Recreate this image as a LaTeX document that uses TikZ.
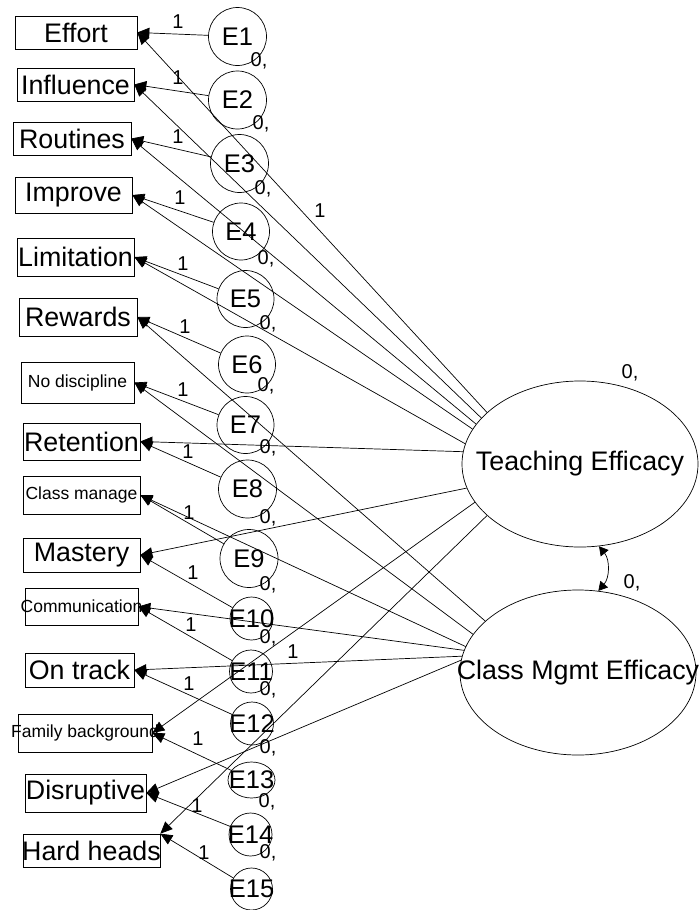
\documentclass[tikz,border=0pt]{standalone}
\usepackage{fontspec}
\setmainfont{Liberation Sans}
\usetikzlibrary{arrows.meta,shapes.geometric}

\begin{document}
\begin{tikzpicture}[x=1pt,y=-1pt,
  every node/.style={inner sep=0pt},
  tip/.style={-{Triangle[length=12pt,width=10.5pt]}},
  link/.style={draw, line width=0.7pt, tip},
  cov/.style={draw, line width=0.7pt, {Triangle[length=9pt,width=10pt]}-{Triangle[length=9pt,width=10pt]}},
  obs/.style={draw, line width=0.7pt, rectangle, font=\fontsize{26.8}{26.8}\selectfont},
  obssmall/.style={obs, font=\fontsize{17.5}{17.5}\selectfont},
  err/.style={draw, line width=0.7pt, circle, minimum size=58pt, font=\fontsize{25.5}{25.5}\selectfont},
  errsmall/.style={err, minimum size=43pt},
  lat/.style={draw, line width=0.7pt, ellipse, minimum width=236pt, minimum height=166pt, font=\fontsize{26.8}{26.8}\selectfont},
  num/.style={font=\fontsize{20}{20}\selectfont}
]
\useasboundingbox (0,0) rectangle (700,910);

% observed indicators
\node[obs, minimum width=122pt, minimum height=33pt] (effort) at (76,32.5) {\makebox[0pt]{Effort}};
\node[obs, minimum width=117pt, minimum height=33pt] (influence) at (75.5,84.5) {\makebox[0pt]{Influence}};
\node[obs, minimum width=118pt, minimum height=33pt] (routines) at (72,138.5) {\makebox[0pt]{Routines}};
\node[obs, minimum width=117pt, minimum height=36pt] (improve) at (73.5,195) {\makebox[0pt]{Improve}};
\node[obs, minimum width=117pt, minimum height=38pt] (limitation) at (75.5,257) {\makebox[0pt]{Limitation}};
\node[obs, minimum width=118pt, minimum height=38pt] (rewards) at (78,317) {\makebox[0pt]{Rewards}};
\node[obssmall, minimum width=113pt, minimum height=41pt] (nodisc) at (77.5,382.5) {\makebox[0pt]{No discipline}};
\node[obs, minimum width=117pt, minimum height=37pt] (retention) at (81.5,441.5) {\makebox[0pt]{Retention}};
\node[obssmall, minimum width=117pt, minimum height=38pt] (classman) at (81.5,495) {\makebox[0pt]{Class manage}};
\node[obs, minimum width=117pt, minimum height=34pt] (mastery) at (81.5,555) {\makebox[0pt]{Mastery}};
\node[obssmall, minimum width=113pt, minimum height=37pt] (commun) at (81.5,606.5) {\makebox[0pt]{Communication}};
\node[obs, minimum width=109pt, minimum height=34pt] (ontrack) at (79.5,670) {\makebox[0pt]{On track}};
\node[obssmall, minimum width=134pt, minimum height=38pt] (family) at (85,733) {\makebox[0pt]{Family background}};
\node[obs, minimum width=121pt, minimum height=38pt] (disrupt) at (85.5,793) {\makebox[0pt]{Disruptive}};
\node[obs, minimum width=137pt, minimum height=33pt] (hard) at (91.5,850.5) {\makebox[0pt]{Hard heads}};

% error terms
\node[err] (e1) at (237.5,36.5) {\makebox[0pt]{E1}};
\node[err] (e2) at (237.5,100) {\makebox[0pt]{E2}};
\node[err] (e3) at (239.5,163.5) {\makebox[0pt]{E3}};
\node[err, minimum size=57pt] (e4) at (241,231.5) {\makebox[0pt]{E4}};
\node[err, minimum size=57pt] (e5) at (245.5,299) {\makebox[0pt]{E5}};
\node[err, minimum size=57pt] (e6) at (247,364.5) {\makebox[0pt]{E6}};
\node[err, minimum size=57pt] (e7) at (245.5,425) {\makebox[0pt]{E7}};
\node[err] (e8) at (247.5,489) {\makebox[0pt]{E8}};
\node[err] (e9) at (249,558.5) {\makebox[0pt]{E9}};
\node[errsmall] (e10) at (251.5,618.5) {\makebox[0pt]{E10}};
\node[errsmall] (e11) at (251,671.5) {\makebox[0pt]{E11}};
\node[errsmall] (e12) at (252,723.5) {\makebox[0pt]{E12}};
\node[draw, line width=0.7pt, ellipse, minimum width=47pt, minimum height=36pt, font=\fontsize{25.5}{25.5}\selectfont] (e13) at (251.5,780) {\makebox[0pt]{E13}};
\node[errsmall] (e14) at (250.5,834.5) {\makebox[0pt]{E14}};
\node[errsmall, minimum size=42pt] (e15) at (251.5,889) {\makebox[0pt]{E15}};

% latent factors
\node[lat] (TE) at (580,464) {\makebox[0pt]{Teaching Efficacy}};
\node[lat, minimum height=165pt] (CM) at (578,672.5) {\makebox[0pt]{Class Mgmt Efficacy}};

% error paths
\draw[link] (e1) -- (effort.east);
\draw[link] (e2) -- (influence.east);
\draw[link] (e3) -- (routines.east);
\draw[link] (e4) -- (improve.east);
\draw[link] (e5) -- (limitation.east);
\draw[link] (e6) -- (rewards.east);
\draw[link] (e7) -- (nodisc.east);
\draw[link] (e8) -- (retention.east);
\draw[link] (e9) -- (classman.east);
\draw[link] (e10) -- (mastery.east);
\draw[link] (e11) -- (commun.east);
\draw[link] (e12) -- (ontrack.east);
\draw[link] (e13) -- (family.east);
\draw[link] (e14) -- (disrupt.east);
\draw[link] (e15) -- (hard.north east);

% loadings on Teaching Efficacy
\draw[link] (TE.151.5) -- (effort.east);
\draw[link] (TE.155.8) -- (influence.east);
\draw[link] (TE.159.6) -- (routines.east);
\draw[link] (TE.162.7) -- (improve.east);
\draw[link] (TE.170.8) -- (limitation.east);
\draw[link] (TE.174.7) -- (retention.east);
\draw[link] (TE.192.5) -- (mastery.east);
\draw[link] (TE.200.4) -- (family.east);
\draw[link] (TE.209.7) -- (hard.north east);

% loadings on Class Mgmt Efficacy
\draw[link] (CM.151.3) -- (rewards.east);
\draw[link] (CM.160.1) -- (nodisc.east);
\draw[link] (CM.167) -- (classman.east);
\draw[link] (CM.169.2) -- (commun.east);
\draw[link] (CM.172.7) -- (ontrack.east);
\draw[link] (CM.174) -- (disrupt.east);

% factor covariance
\draw[cov] (TE.283.4) to[bend left=40] (CM.76.3);

% fixed path coefficients
\node[num] at (178,22) {1};
\node[num] at (178,78) {1};
\node[num] at (178,137) {1};
\node[num] at (180,198) {1};
\node[num] at (183,264) {1};
\node[num] at (185,327) {1};
\node[num] at (183,390) {1};
\node[num] at (188,452) {1};
\node[num] at (189,513) {1};
\node[num] at (193,573) {1};
\node[num] at (191,625) {1};
\node[num] at (189,684) {1};
\node[num] at (198,739) {1};
\node[num] at (197,806) {1};
\node[num] at (204,853) {1};
\node[num] at (320,211) {1};
\node[num] at (293,652) {1};

% means and variances
\node[num] at (259,61) {0,};
\node[num] at (261,124) {0,};
\node[num] at (263,189) {0,};
\node[num] at (266,259) {0,};
\node[num] at (268,324) {0,};
\node[num] at (266,386) {0,};
\node[num] at (268,448) {0,};
\node[num] at (268,518) {0,};
\node[num] at (268,585) {0,};
\node[num] at (268,638) {0,};
\node[num] at (268,690) {0,};
\node[num] at (268,748) {0,};
\node[num] at (267,802) {0,};
\node[num] at (268,853) {0,};
\node[num] at (630,373) {0,};
\node[num] at (632,583) {0,};
\end{tikzpicture}
\end{document}
